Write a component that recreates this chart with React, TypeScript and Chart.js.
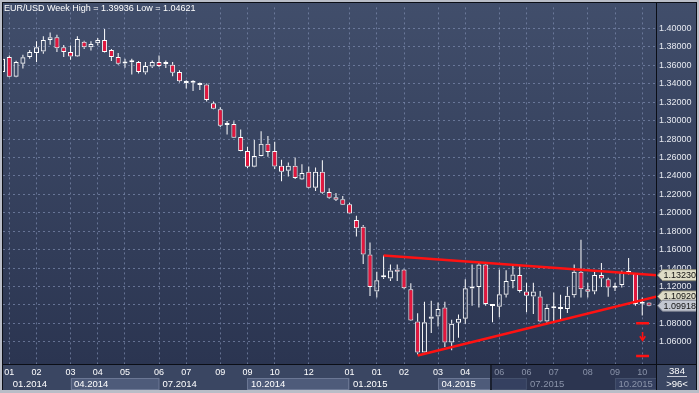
import React, { useEffect, useRef } from 'react';
import { Chart, registerables } from 'chart.js';

Chart.register(...registerables);

const FONT = "'Liberation Sans', Arial, sans-serif";

// ---- weekly EUR/USD candles (96 weeks) ----
const opens = [
  1.3528, 1.3689, 1.3475, 1.3617, 1.3689, 1.3732, 1.3749, 1.3875, 1.3904, 1.3796,
  1.3743, 1.3696, 1.3856, 1.3796, 1.3839, 1.3875, 1.3767, 1.3689, 1.3620, 1.3632,
  1.3636, 1.3521, 1.3588, 1.3636, 1.3614, 1.3607, 1.3528, 1.3408, 1.3411, 1.3403,
  1.3392, 1.3189, 1.3124, 1.2953, 1.2964, 1.2821, 1.2671, 1.2500, 1.2617, 1.2749,
  1.2671, 1.2510, 1.2457, 1.2510, 1.2360, 1.2446, 1.2270, 1.2446, 1.2224, 1.2167,
  1.2146, 1.2092, 1.1921, 1.1849, 1.1546, 1.1145, 1.1299, 1.1288, 1.1385, 1.1385,
  1.1170, 1.0820, 1.0485, 1.0849, 1.0874, 1.0973, 1.0592, 1.0806, 1.0849, 1.1178,
  1.1195, 1.1438, 1.0988, 1.0981, 1.1109, 1.1260, 1.1324, 1.1145, 1.1091, 1.1091,
  1.0820, 1.0964, 1.0973, 1.0956, 1.1106, 1.1359, 1.1170, 1.1145, 1.1324, 1.1278,
  1.1185, 1.1217, 1.1346, 1.1338, 1.1013, 1.1025,
];
const closes = [
  1.3670, 1.3475, 1.3636, 1.3686, 1.3743, 1.3796, 1.3875, 1.3904, 1.3786, 1.3743,
  1.3696, 1.3885, 1.3796, 1.3832, 1.3875, 1.3743, 1.3689, 1.3617, 1.3628, 1.3640,
  1.3528, 1.3593, 1.3636, 1.3593, 1.3620, 1.3518, 1.3428, 1.3414, 1.3417, 1.3385,
  1.3224, 1.3128, 1.2945, 1.2959, 1.2814, 1.2671, 1.2500, 1.2617, 1.2749, 1.2660,
  1.2503, 1.2446, 1.2510, 1.2377, 1.2431, 1.2270, 1.2446, 1.2216, 1.2163, 1.2141,
  1.2088, 1.1991, 1.1831, 1.1546, 1.1195, 1.1267, 1.1305, 1.1374, 1.1359, 1.1181,
  1.0831, 1.0485, 1.0813, 1.0874, 1.0956, 1.0592, 1.0795, 1.0849, 1.1181, 1.1184,
  1.1438, 1.1010, 1.0994, 1.1117, 1.1260, 1.1331, 1.1152, 1.1099, 1.1145, 1.0820,
  1.0967, 1.0970, 1.0956, 1.1099, 1.1359, 1.1170, 1.1142, 1.1324, 1.1288, 1.1188,
  1.1191, 1.1349, 1.1352, 1.1010, 1.1019, 1.09918,
];
const highs = [
  1.3690, 1.3706, 1.3650, 1.3714, 1.3767, 1.3861, 1.3914, 1.3957, 1.3931, 1.3821,
  1.3814, 1.3914, 1.3867, 1.3861, 1.3896, 1.39936, 1.3778, 1.3732, 1.3671, 1.3671,
  1.3646, 1.3636, 1.3653, 1.3706, 1.3653, 1.3636, 1.3546, 1.3438, 1.3438, 1.3414,
  1.3403, 1.3207, 1.3146, 1.2996, 1.2993, 1.2903, 1.2717, 1.2789, 1.2885, 1.2832,
  1.2771, 1.2575, 1.2546, 1.2599, 1.2527, 1.2503, 1.2492, 1.2570, 1.2267, 1.2213,
  1.2181, 1.2109, 1.1967, 1.1867, 1.1677, 1.1359, 1.1535, 1.1438, 1.1438, 1.1390,
  1.1235, 1.0909, 1.1034, 1.1045, 1.1027, 1.1034, 1.0838, 1.0895, 1.1278, 1.1438,
  1.1456, 1.1456, 1.1010, 1.1385, 1.1377, 1.1438, 1.1420, 1.1241, 1.1241, 1.1152,
  1.1010, 1.1134, 1.1109, 1.1198, 1.1438, 1.1706, 1.1241, 1.1374, 1.1456, 1.1295,
  1.1241, 1.1374, 1.1509, 1.1345, 1.1080, 1.1030,
];
const lows = [
  1.3505, 1.3470, 1.3470, 1.3564, 1.3671, 1.3636, 1.3725, 1.3824, 1.3743, 1.3689,
  1.3660, 1.3689, 1.3778, 1.3760, 1.3814, 1.3740, 1.3646, 1.3607, 1.3574, 1.3500,
  1.3510, 1.3500, 1.3571, 1.3582, 1.3571, 1.3481, 1.3414, 1.3349, 1.3320, 1.3331,
  1.3207, 1.3124, 1.2931, 1.2849, 1.2810, 1.2668, 1.2485, 1.2495, 1.2612, 1.2607,
  1.2474, 1.2342, 1.2392, 1.2367, 1.2355, 1.2265, 1.2235, 1.2206, 1.2152, 1.2128,
  1.2085, 1.1988, 1.1742, 1.1445, 1.1098, 1.1080, 1.1281, 1.1260, 1.1260, 1.1170,
  1.0825, 1.04621, 1.0480, 1.0695, 1.0766, 1.0544, 1.0509, 1.0645, 1.0795, 1.0991,
  1.0973, 1.0991, 1.0813, 1.0866, 1.1080, 1.1181, 1.1134, 1.0920, 1.0902, 1.0813,
  1.0802, 1.0813, 1.0831, 1.0913, 1.1080, 1.1080, 1.1080, 1.1117, 1.1195, 1.1088,
  1.1152, 1.1188, 1.1331, 1.0991, 1.0884, 1.0985,
];

// ---- triangle trend lines ----
const upperTrendX = [56, 96.17];
const upperTrendY = [1.1535, 1.1323];
const lowerTrendX = [61, 96.17];
const lowerTrendY = [1.0452, 1.1092];

// ---- target markers ----
const targetLevels = [1.0802, 1.0445];
const targetSpanX = [93.1, 95.0];
const arrowX = 94.05;
const arrowTop = 1.0705;
const arrowBottom = 1.0616;
const arrowHeadX = [93.65, 94.05, 94.45];
const arrowHeadY = [1.0660, 1.0616, 1.0660];

// ---- axes ----
const yTicks = [
  1.06, 1.08, 1.1, 1.12, 1.14, 1.16, 1.18, 1.2, 1.22, 1.24, 1.26, 1.28, 1.3,
  1.32, 1.34, 1.36, 1.38, 1.4,
];
const monthTickIdx = [1, 5, 10, 14, 18, 23, 27, 32, 36, 40, 45, 51, 55, 59, 64, 68, 73, 77, 81, 86, 90, 94];
const monthLabels = ['01', '02', '03', '04', '05', '06', '07', '09', '09', '10', '12', '01', '01', '02', '03', '04', '06', '06', '07', '08', '09', '10'];
const quarterIdx = [1, 10, 23, 36, 51, 64, 77, 90];
const quarterLabels = ['01.2014', '04.2014', '07.2014', '10.2014', '01.2015', '04.2015', '07.2015', '10.2015'];
const scrollEndIdx = 71.73;
const X_MIN = 0.075;
const X_MAX = 96.17;
const Y_MIN = 1.0359;
const Y_MAX = 1.4228;
const totalBars = '384';
const visibleBars = '>96<';

const RED = '#e3173e';
const GRID = 'rgba(125,140,175,0.7)';

function drawTag(ctx: CanvasRenderingContext2D, y: number, text: string, fill: string, stroke: string, left: number, right: number) {
  const h = 11;
  ctx.beginPath();
  ctx.moveTo(left, y);
  ctx.lineTo(left + 5, y - h / 2);
  ctx.lineTo(right, y - h / 2);
  ctx.lineTo(right, y + h / 2);
  ctx.lineTo(left + 5, y + h / 2);
  ctx.closePath();
  ctx.fillStyle = fill;
  ctx.fill();
  ctx.strokeStyle = stroke;
  ctx.lineWidth = 1;
  ctx.stroke();
  ctx.fillStyle = '#111111';
  ctx.textAlign = 'left';
  ctx.textBaseline = 'middle';
  ctx.font = `9px ${FONT}`;
  ctx.fillText(text, left + 6, y + 0.5);
}

const decorPlugin = {
  id: 'decor',
  beforeDraw(chart: any) {
    const { ctx, chartArea: ca, width: W, height: H } = chart;
    const xs = chart.scales.x;
    ctx.save();
    const g = ctx.createLinearGradient(0, 0, 0, ca.bottom);
    g.addColorStop(0, '#414e6b');
    g.addColorStop(1, '#2b3551');
    ctx.fillStyle = g;
    ctx.fillRect(0, 0, W, ca.bottom);
    const rowTop = ca.bottom;
    const yearTop = ca.bottom + 14;
    const yearBot = H - 3;
    ctx.fillStyle = '#3a4662';
    ctx.fillRect(0, rowTop, W, H - rowTop);
    const shadeX = xs.getPixelForValue(scrollEndIdx);
    // light quarter bands
    quarterIdx.forEach((q, k) => {
      if (k % 2 === 0) return;
      const x0 = xs.getPixelForValue(q);
      const x1 = k + 1 < quarterIdx.length ? xs.getPixelForValue(quarterIdx[k + 1]) : ca.right;
      ctx.fillStyle = '#4e5b7a';
      ctx.fillRect(x0, yearTop, x1 - x0, yearBot - yearTop);
      ctx.strokeStyle = '#6b7794';
      ctx.lineWidth = 1;
      ctx.strokeRect(Math.round(x0) + 0.5, yearTop + 0.5, x1 - x0 - 1, yearBot - yearTop - 1);
    });
    // scroll overlay (darker)
    ctx.fillStyle = '#2c3550';
    ctx.fillRect(shadeX, rowTop + 1, ca.right - shadeX, yearBot - rowTop - 1);
    quarterIdx.forEach((q, k) => {
      if (k % 2 === 0) return;
      const x0 = Math.max(xs.getPixelForValue(q), shadeX);
      const x1 = k + 1 < quarterIdx.length ? xs.getPixelForValue(quarterIdx[k + 1]) : ca.right;
      if (x1 <= shadeX) return;
      ctx.fillStyle = '#354060';
      ctx.fillRect(x0, yearTop, x1 - x0, yearBot - yearTop);
      ctx.strokeStyle = '#44506c';
      ctx.strokeRect(Math.round(x0) + 0.5, yearTop + 0.5, x1 - x0 - 1, yearBot - yearTop - 1);
    });
    ctx.fillStyle = '#1a2030';
    ctx.fillRect(Math.round(shadeX) - 1, rowTop + 1, 2, yearBot - rowTop - 1);
    ctx.restore();
  },
  afterDraw(chart: any) {
    const { ctx, chartArea: ca, width: W, height: H } = chart;
    const xs = chart.scales.x;
    const ys = chart.scales.y;
    const yearTop = ca.bottom + 14;
    const shadeX = xs.getPixelForValue(scrollEndIdx);
    ctx.save();
    // year labels
    ctx.font = `9.5px ${FONT}`;
    ctx.textBaseline = 'middle';
    ctx.textAlign = 'left';
    quarterIdx.forEach((q, k) => {
      const x0 = xs.getPixelForValue(q);
      ctx.fillStyle = x0 >= shadeX ? '#8a93a9' : '#ffffff';
      ctx.fillText(quarterLabels[k], x0 + 3.5, yearTop + 6.5);
    });
    // bar count box
    const cx = (ca.right + W - 2) / 2;
    ctx.textAlign = 'center';
    ctx.fillStyle = '#ffffff';
    ctx.fillText(totalBars, cx, ca.bottom + 7);
    ctx.fillText(visibleBars, cx, yearTop + 6.5);
    ctx.fillStyle = '#c9cdd8';
    ctx.fillRect(cx - 10, ca.bottom + 12, 20, 1);
    // price tags
    const left = ca.right + 0.5;
    const right = W - 2.5;
    drawTag(ctx, ys.getPixelForValue(upperTrendY[1]), upperTrendY[1].toFixed(5), '#dedcc6', '#8f8d7a', left, right);
    drawTag(ctx, ys.getPixelForValue(lowerTrendY[1]), lowerTrendY[1].toFixed(5), '#dedcc6', '#8f8d7a', left, right);
    const last = closes[closes.length - 1];
    drawTag(ctx, ys.getPixelForValue(last), last.toFixed(5), '#c3c7d1', '#7d8290', left, right);
    // title
    ctx.font = `9px ${FONT}`;
    ctx.textAlign = 'left';
    ctx.textBaseline = 'middle';
    ctx.fillStyle = '#ffffff';
    const hi = Math.max(...highs).toFixed(5);
    const lo = Math.min(...lows).toFixed(5);
    ctx.fillText(`EUR/USD Week High = ${hi} Low = ${lo}`, 4, 8.5);
    // frame
    ctx.fillStyle = '#b9bdc7';
    ctx.fillRect(0, 0, W, 2);
    ctx.fillRect(0, 0, 2, H);
    ctx.fillRect(W - 2, 0, 2, H);
    ctx.fillRect(0, H - 3, W, 3);
    ctx.fillStyle = '#0b0e16';
    ctx.fillRect(2, 2, W - 4, 1);
    ctx.fillRect(2, 2, 1, H - 5);
    ctx.fillRect(ca.right - 1, 2, 1, H - 5);
    ctx.fillRect(2, ca.bottom, W - 4, 1);
    ctx.fillRect(W - 3, 2, 1, H - 5);
    ctx.restore();
  },
};

export default function App() {
  const ref = useRef<HTMLCanvasElement>(null);
  useEffect(() => {
    const canvas = ref.current;
    if (!canvas) return;
    const idx = opens.map((_, i) => i);
    const bodyData = idx.map((i) => ({ x: i, y: [opens[i], closes[i]] }));
    const upperWick = idx.map((i) => ({ x: i, y: [Math.max(opens[i], closes[i]), highs[i]] }));
    const lowerWick = idx.map((i) => ({ x: i, y: [lows[i], Math.min(opens[i], closes[i])] }));
    const bodyColors = idx.map((i) => (closes[i] < opens[i] ? RED : 'rgba(0,0,0,0)'));

    const redLine = (data: { x: number; y: number }[], width: number) => ({
      type: 'line' as const,
      data,
      borderColor: '#ff1212',
      borderWidth: width,
      pointRadius: 0,
      fill: false,
      tension: 0,
      order: 0,
    });

    const datasets: any[] = [
      redLine(upperTrendX.map((x, k) => ({ x, y: upperTrendY[k] })), 2.5),
      redLine(lowerTrendX.map((x, k) => ({ x, y: lowerTrendY[k] })), 2.5),
      ...targetLevels.map((lv) => redLine(targetSpanX.map((x) => ({ x, y: lv })), 2.5)),
      redLine([{ x: arrowX, y: arrowTop }, { x: arrowX, y: arrowBottom }], 1.6),
      redLine(arrowHeadX.map((x, k) => ({ x, y: arrowHeadY[k] })), 1.6),
      {
        type: 'bar',
        data: bodyData,
        backgroundColor: bodyColors,
        borderColor: '#ffffff',
        borderWidth: 1,
        borderSkipped: false,
        barThickness: 5,
        minBarLength: 2,
        grouped: false,
        inflateAmount: 0,
        order: 1,
      },
      {
        type: 'bar',
        data: upperWick,
        backgroundColor: '#ffffff',
        borderWidth: 0,
        barThickness: 1,
        grouped: false,
        inflateAmount: 0,
        order: 2,
      },
      {
        type: 'bar',
        data: lowerWick,
        backgroundColor: '#ffffff',
        borderWidth: 0,
        barThickness: 1,
        grouped: false,
        inflateAmount: 0,
        order: 2,
      },
    ];

    const chart = new Chart(canvas, {
      type: 'bar',
      data: { datasets },
      plugins: [decorPlugin],
      options: {
        responsive: false,
        animation: false,
        devicePixelRatio: 1,
        events: [],
        layout: { padding: { left: 3, top: 3, right: 0, bottom: 0 } },
        plugins: { legend: { display: false }, tooltip: { enabled: false }, title: { display: false } },
        scales: {
          x: {
            type: 'linear',
            min: X_MIN,
            max: X_MAX,
            offset: false,
            position: 'bottom',
            grid: { color: GRID, lineWidth: 1, drawTicks: false, offset: false },
            border: { display: false, dash: [2, 3] },
            ticks: {
              autoSkip: false,
              maxRotation: 0,
              padding: 3,
              font: { size: 9, family: FONT },
              color: (c: any) => (c.tick && c.tick.value > scrollEndIdx ? '#8a93a9' : '#ffffff'),
              callback: (_v: any, i: number) => monthLabels[i],
            },
            afterBuildTicks: (s: any) => {
              s.ticks = monthTickIdx.map((value) => ({ value }));
            },
            afterFit: (s: any) => {
              s.height = 29;
            },
          },
          y: {
            type: 'linear',
            position: 'right',
            min: Y_MIN,
            max: Y_MAX,
            grid: { color: GRID, lineWidth: 1, drawTicks: false },
            border: { display: false, dash: [2, 3] },
            ticks: {
              padding: 2,
              font: { size: 9, family: FONT },
              color: '#e6e9f0',
              callback: (v: any) => Number(v).toFixed(5),
            },
            afterBuildTicks: (s: any) => {
              s.ticks = yTicks.map((value) => ({ value }));
            },
            afterFit: (s: any) => {
              s.width = 42;
            },
          },
        },
      } as any,
    });
    return () => chart.destroy();
  }, []);

  return (
    <div style={{ position: 'fixed', left: 0, top: 0, width: 699, height: 393 }}>
      <canvas ref={ref} width={699} height={393} style={{ display: 'block' }} />
    </div>
  );
}
